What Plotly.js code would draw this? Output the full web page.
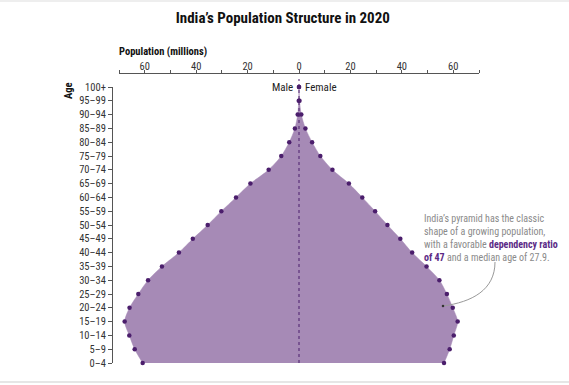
<!DOCTYPE html>
<html>
<head>
<meta charset="utf-8">
<script src="https://cdn.plot.ly/plotly-3.0.1.min.js"></script>
<style>html,body{margin:0;padding:0;background:#fff;}</style>
</head>
<body>
<div id="chart" style="width:569px;height:385px;"></div>
<script>
// Age groups (bottom to top)
const ageGroups = ["0–4","5–9","10–14","15–19","20–24","25–29","30–34","35–39","40–44","45–49","50–54","55–59","60–64","65–69","70–74","75–79","80–84","85–89","90–94","95–99","100+"];
// Population in millions
const male   = [60.8, 63.9, 66.0, 67.8, 65.9, 62.5, 58.7, 53.3, 46.7, 41.3, 35.5, 30.2, 24.5, 18.9, 11.8, 6.9, 3.8, 1.6, 0.5, 0.1, 0.0];
const female = [56.4, 58.6, 60.2, 61.7, 59.8, 57.5, 54.6, 49.6, 44.0, 39.4, 34.4, 29.6, 24.6, 19.4, 13.0, 8.3, 5.1, 2.5, 0.9, 0.2, 0.0];
const xTickVals = [-60, -40, -20, 0, 20, 40, 60];
const xTickText = ["60", "40", "20", "0", "20", "40", "60"];
const xMinorVals = [-70, -50, -30, -10, 10, 30, 50, 70];

const yIdx = ageGroups.map((_, i) => i);
const maleNeg = male.map(v => -v);

const FONT = "'Roboto Condensed', 'Open Sans Condensed', sans-serif";
const FILL = "#a68ab6";
const MARK = "#4b1e6c";

const traces = [
  {x: maleNeg, y: yIdx, type: "scatter", mode: "lines", fill: "tozerox",
   fillcolor: FILL, line: {color: FILL, width: 0.5, shape: "spline", smoothing: 0.8},
   hoverinfo: "skip", showlegend: false},
  {x: female, y: yIdx, type: "scatter", mode: "lines", fill: "tozerox",
   fillcolor: FILL, line: {color: FILL, width: 0.5, shape: "spline", smoothing: 0.8},
   hoverinfo: "skip", showlegend: false},
  {x: maleNeg, y: yIdx, type: "scatter", mode: "markers",
   marker: {color: MARK, size: 4.5}, showlegend: false, cliponaxis: false},
  {x: female, y: yIdx, type: "scatter", mode: "markers",
   marker: {color: MARK, size: 4.5}, showlegend: false, cliponaxis: false}
];

const L = 112, R = 90, T = 73, B = 22;
const W = 569, H = 385;
const pw = W - L - R, ph = H - T - B;
const px = v => (v - L) / pw;
const py = v => (H - B - v) / ph;

const layout = {
  width: W, height: H,
  margin: {l: L, r: R, t: T, b: B, pad: 0},
  paper_bgcolor: "#fff", plot_bgcolor: "#fff",
  font: {family: FONT, size: 10, color: "#333"},
  title: {text: "<b>India’s Population Structure in 2020</b>", xref: "container", x: 0.497, xanchor: "center",
          yref: "container", y: 1 - 18 / H, yanchor: "middle",
          font: {family: FONT, size: 15, color: "#111"}},
  xaxis: {
    range: [-70, 70], domain: [px(119), 1], side: "top", anchor: "free", position: 1,
    tickvals: xTickVals, ticktext: xTickText, ticks: "outside", ticklen: 3, tickcolor: "#555",
    ticklabelstandoff: -4,
    showline: true, linecolor: "#555", linewidth: 1, showgrid: false, zeroline: false,
    tickfont: {family: FONT, size: 10.5, color: "#333"},
    minor: {tickvals: xMinorVals, ticks: "outside", ticklen: 3, tickcolor: "#555", showgrid: false},
    fixedrange: true
  },
  yaxis: {
    range: [0, 20], domain: [0, (363 - 87) / ph],
    anchor: "free", position: 0,
    tickvals: yIdx, ticktext: ageGroups, ticks: "outside", ticklen: 4, tickcolor: "#555",
    showline: true, linecolor: "#555", linewidth: 1, showgrid: false, zeroline: false,
    tickfont: {family: FONT, size: 10.5, color: "#333"},
    fixedrange: true
  },
  shapes: [
    {type: "line", xref: "x", yref: "paper", x0: 0, x1: 0, y0: 0, y1: py(79),
     line: {color: MARK, width: 1, dash: "dot"}, layer: "above"},
    {type: "path", xref: "paper", yref: "paper",
     path: `M ${px(495)} ${py(262)} C ${px(495)} ${py(290)}, ${px(472)} ${py(302)}, ${px(443)} ${py(306)}`,
     line: {color: "#999", width: 1}},
    {type: "circle", xref: "paper", yref: "paper", xsizemode: "pixel", ysizemode: "pixel",
     xanchor: px(443), yanchor: py(306), x0: -1.3, x1: 1.3, y0: -1.3, y1: 1.3,
     fillcolor: "#333", line: {width: 0}},
    {type: "line", xref: "paper", yref: "paper", x0: px(0), x1: px(569), y0: py(382), y1: py(382),
     line: {color: "#e6e6e6", width: 2}},
    {type: "line", xref: "paper", yref: "paper", x0: px(0), x1: px(569), y0: py(1), y1: py(1),
     line: {color: "#eeeeee", width: 2}}
  ],
  annotations: [
    {text: "<b>Population (millions)</b>", xref: "paper", yref: "paper", x: px(117), y: py(52),
     xanchor: "left", yanchor: "middle", showarrow: false, font: {family: FONT, size: 10.5, color: "#111"}},
    {text: "<b>Age</b>", xref: "paper", yref: "paper", x: px(68), y: py(91), textangle: -90,
     xanchor: "center", yanchor: "middle", showarrow: false, font: {family: FONT, size: 10.5, color: "#111"}},
    {text: "Male", xref: "x", yref: "y", x: 0, y: 20, xanchor: "right", yanchor: "middle", xshift: -4,
     showarrow: false, font: {family: FONT, size: 11, color: "#222"}},
    {text: "Female", xref: "x", yref: "y", x: 0, y: 20, xanchor: "left", yanchor: "middle", xshift: 4,
     showarrow: false, font: {family: FONT, size: 11, color: "#222"}},
    {text: "India’s pyramid has the classic<br>shape of a growing population,<br>with a favorable <b><span style=\"color:#5b2a86\">dependency ratio</span></b><br><b><span style=\"color:#5b2a86\">of 47</span></b> and a median age of 27.9.",
     xref: "paper", yref: "paper", x: px(422), y: py(211), xanchor: "left", yanchor: "top", align: "left",
     showarrow: false, font: {family: FONT, size: 10, color: "#8a8a8a"}}
  ]
};

Plotly.newPlot("chart", traces, layout, {displayModeBar: false, staticPlot: true});
</script>
</body>
</html>
